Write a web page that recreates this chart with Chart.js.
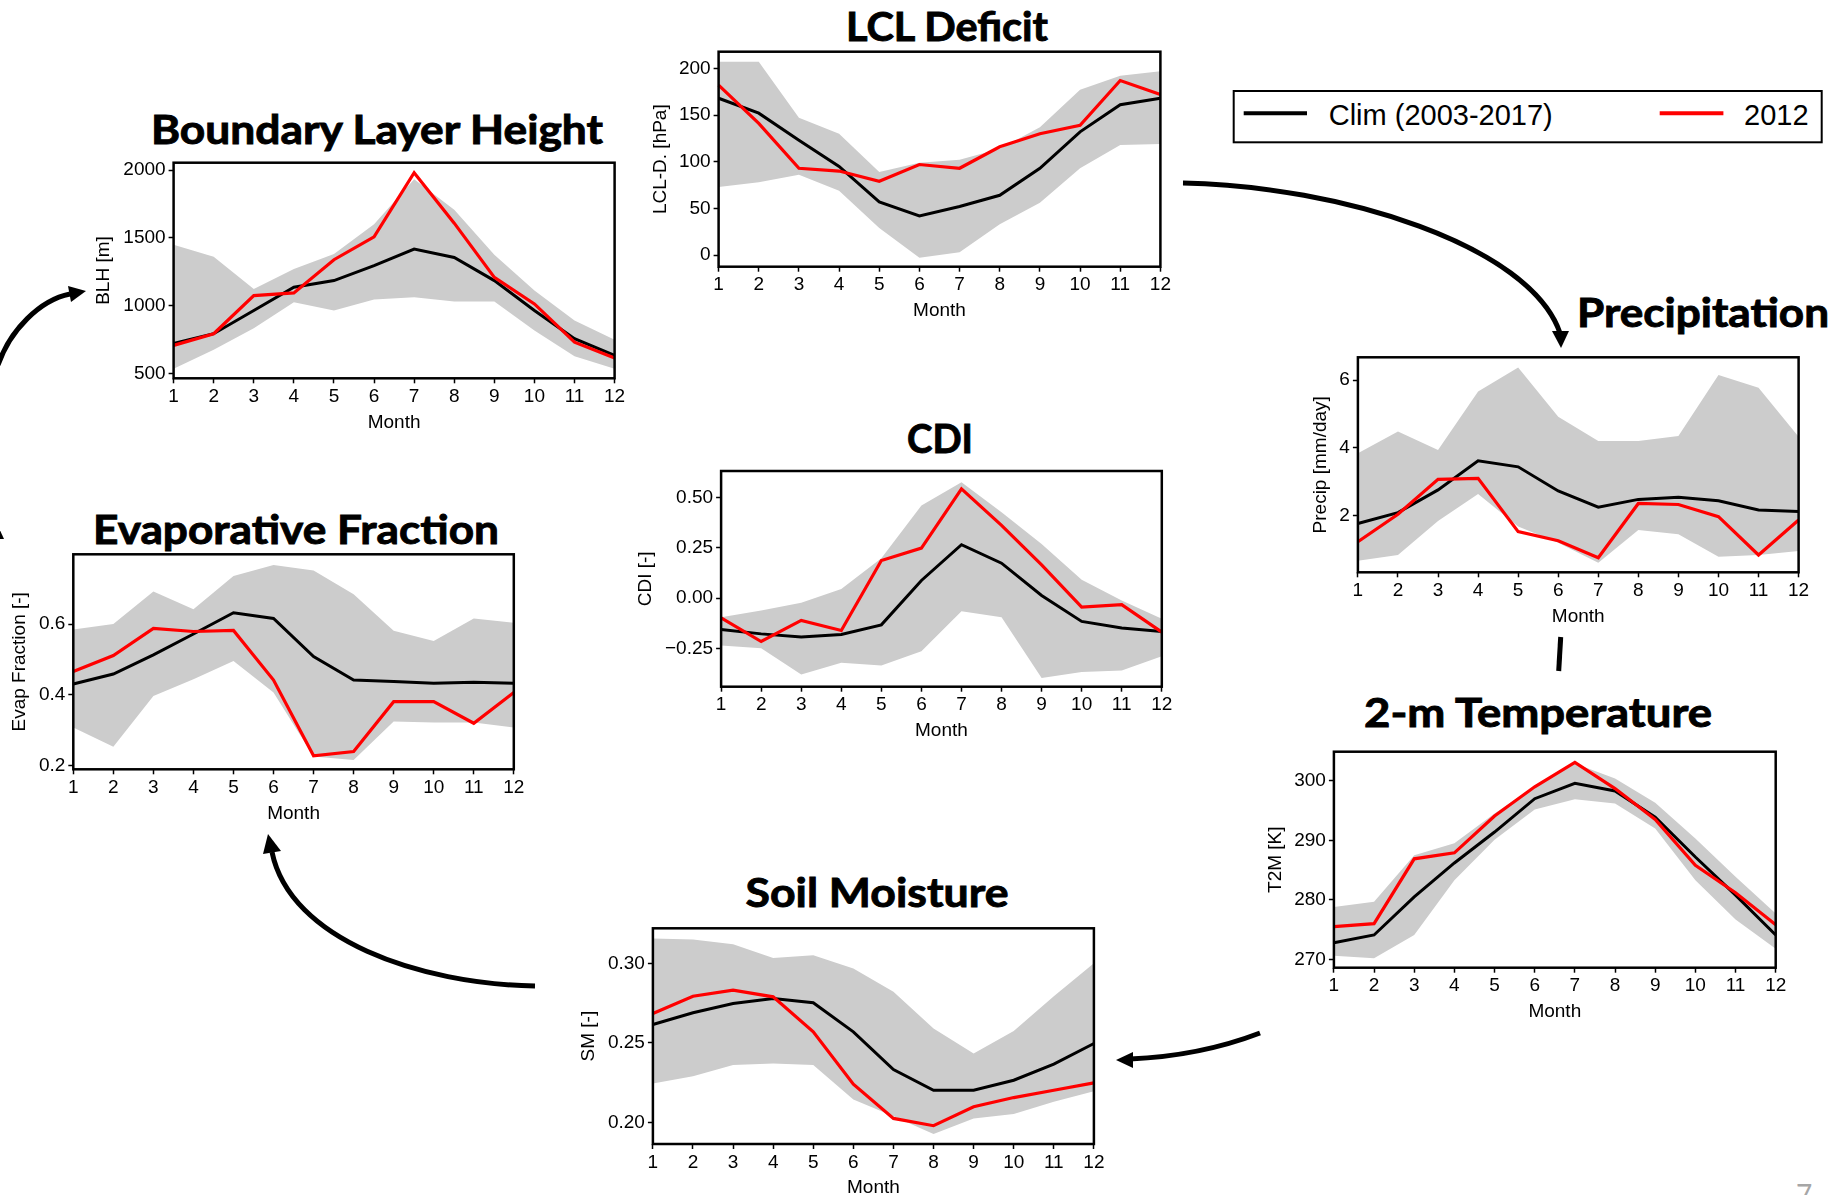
<!DOCTYPE html>
<html>
<head>
<meta charset="utf-8">
<script src="https://cdn.jsdelivr.net/npm/chart.js@4.4.1/dist/chart.umd.min.js"></script>
<style>
  html, body { margin: 0; padding: 0; background: #fff; }
  #page { position: relative; width: 1844px; height: 1195px; overflow: hidden; background: #fff; }
  #page canvas { position: absolute; }
  #deco { position: absolute; left: 0; top: 0; }
</style>
</head>
<body>
<div id="page">
<svg id="deco" width="1844" height="1195" xmlns="http://www.w3.org/2000/svg"></svg>
</div>
<script>
'use strict';

const months = ['1','2','3','4','5','6','7','8','9','10','11','12'];

// Boundary layer height [m]
const blhClim = [721, 792, 963, 1135, 1184, 1294, 1417, 1355, 1184, 963, 755, 633];
const blh2012 = [706, 792, 1073, 1093, 1338, 1507, 1980, 1608, 1208, 1012, 730, 613];
const blhHigh = [1448, 1360, 1122, 1270, 1380, 1600, 1931, 1706, 1375, 1110, 890, 748];
const blhLow  = [534, 674, 833, 1024, 963, 1044, 1061, 1029, 1029, 816, 625, 534];
const blhTicks = [500, 1000, 1500, 2000];

// LCL deficit [hPa]
const lclClim = [168, 152, 123, 95, 57, 42, 52, 64, 93, 132, 161, 168];
const lcl2012 = [182, 141, 93, 90, 79, 97, 93, 116, 130, 139, 187, 172];
const lclHigh = [207, 207, 147, 130, 89, 99, 102, 114, 137, 177, 192, 197];
const lclLow  = [73, 78, 86, 69, 29, -3, 3, 33, 56, 93, 118, 119];
const lclTicks = [0, 50, 100, 150, 200];

// Precipitation [mm/day]
const prClim = [1.77, 2.09, 2.76, 3.62, 3.44, 2.73, 2.25, 2.48, 2.54, 2.44, 2.17, 2.12];
const pr2012 = [1.23, 2.04, 3.07, 3.10, 1.53, 1.26, 0.76, 2.36, 2.33, 1.97, 0.84, 1.87];
const prHigh = [3.84, 4.48, 3.94, 5.66, 6.37, 4.92, 4.20, 4.20, 4.35, 6.15, 5.77, 4.33];
const prLow  = [0.67, 0.84, 1.84, 2.64, 1.68, 1.20, 0.61, 1.58, 1.45, 0.79, 0.84, 0.96];
const prTicks = [2, 4, 6];

// Evaporative fraction [-]
const efClim = [0.431, 0.459, 0.513, 0.572, 0.632, 0.616, 0.508, 0.442, 0.438, 0.433, 0.436, 0.433];
const ef2012 = [0.466, 0.511, 0.588, 0.579, 0.582, 0.442, 0.228, 0.240, 0.381, 0.381, 0.320, 0.407];
const efHigh = [0.585, 0.600, 0.692, 0.642, 0.736, 0.767, 0.751, 0.684, 0.581, 0.552, 0.616, 0.604];
const efLow  = [0.308, 0.254, 0.397, 0.444, 0.496, 0.407, 0.226, 0.216, 0.325, 0.322, 0.322, 0.308];
const efTicks = [0.2, 0.4, 0.6];

// CDI [-]
const cdiClim = [-0.156, -0.178, -0.194, -0.181, -0.133, 0.088, 0.266, 0.174, 0.013, -0.116, -0.149, -0.166];
const cdi2012 = [-0.098, -0.216, -0.111, -0.161, 0.187, 0.249, 0.544, 0.362, 0.166, -0.045, -0.032, -0.169];
const cdiHigh = [-0.095, -0.061, -0.023, 0.046, 0.199, 0.461, 0.577, 0.428, 0.270, 0.091, -0.012, -0.103];
const cdiLow  = [-0.236, -0.250, -0.380, -0.322, -0.335, -0.264, -0.065, -0.095, -0.398, -0.368, -0.360, -0.290];
const cdiTicks = [-0.25, 0, 0.25, 0.5];

// 2-m temperature [K]
const t2mClim = [272.8, 274.1, 280.5, 286.2, 291.4, 297.0, 299.6, 298.3, 293.9, 287.2, 280.8, 274.1];
const t2m2012 = [275.5, 276.0, 286.9, 287.9, 294.1, 299.0, 303.1, 298.7, 293.5, 285.8, 281.2, 275.8];
const t2mHigh = [278.8, 279.7, 287.5, 289.5, 294.5, 299.1, 302.9, 300.4, 296.3, 290.3, 283.9, 277.7];
const t2mLow  = [270.6, 270.2, 274.1, 283.3, 290.1, 295.2, 296.9, 296.2, 292.0, 283.3, 276.7, 271.8];
const t2mTicks = [270, 280, 290, 300];

// Soil moisture [-]
const smClim = [0.2615, 0.2689, 0.2747, 0.2779, 0.2752, 0.2569, 0.2332, 0.2202, 0.2202, 0.2265, 0.2366, 0.2496];
const sm2012 = [0.2684, 0.2793, 0.2831, 0.2789, 0.2569, 0.2240, 0.2025, 0.1979, 0.2098, 0.2156, 0.2202, 0.2248];
const smHigh = [0.3156, 0.3150, 0.3120, 0.3034, 0.3051, 0.2967, 0.2821, 0.2590, 0.2433, 0.2575, 0.2793, 0.3000];
const smLow  = [0.2244, 0.2290, 0.2360, 0.2370, 0.2360, 0.2144, 0.2039, 0.1927, 0.2025, 0.2052, 0.2129, 0.2196];
const smTicks = [0.20, 0.25, 0.30];

const LABEL_FONT = "'Liberation Sans', Arial, sans-serif";
const TITLE_FONT = "Lato, 'Open Sans', sans-serif";
const FS = 19;

// plot box: [left, right, top, bottom] in page pixels; yOff = gap from axis to y-title centre
// tw = width of the slide title above the panel
const panels = [
    { title: 'Boundary Layer Height', ylabel: 'BLH [m]', clim: blhClim, cur: blh2012, hi: blhHigh, lo: blhLow,
      ticks: blhTicks, dec: 0, ymin: 463, ymax: 2054, box: [173.6, 614.6, 162.7, 378.3], yOff: 70.4, tx: 377, ty: 144, tw: 452 },
    { title: 'LCL Deficit', ylabel: 'LCL-D. [hPa]', clim: lclClim, cur: lcl2012, hi: lclHigh, lo: lclLow,
      ticks: lclTicks, dec: 0, ymin: -12.5, ymax: 217.9, box: [718.6, 1160.4, 51.7, 266.7], yOff: 58.2, tx: 947, ty: 40.5, tw: 202 },
    { title: 'Precipitation', ylabel: 'Precip [mm/day]', clim: prClim, cur: pr2012, hi: prHigh, lo: prLow,
      ticks: prTicks, dec: 0, ymin: 0.33, ymax: 6.67, box: [1357.9, 1798.6, 357.3, 572.3], yOff: 37.1, tx: 1703, ty: 326.7, tw: 252 },
    { title: 'Evaporative Fraction', ylabel: 'Evap Fraction [-]', clim: efClim, cur: ef2012, hi: efHigh, lo: efLow,
      ticks: efTicks, dec: 1, ymin: 0.19, ymax: 0.797, box: [73.3, 513.8, 554.3, 769.3], yOff: 53.7, tx: 296, ty: 544, tw: 406 },
    { title: 'CDI', ylabel: 'CDI [-]', clim: cdiClim, cur: cdi2012, hi: cdiHigh, lo: cdiLow,
      ticks: cdiTicks, dec: 2, ymin: -0.441, ymax: 0.633, box: [721.1, 1161.8, 471, 686.7], yOff: 76.1, tx: 940, ty: 453.3, tw: 66 },
    { title: '2-m Temperature', ylabel: 'T2M [K]', clim: t2mClim, cur: t2m2012, hi: t2mHigh, lo: t2mLow,
      ticks: t2mTicks, dec: 0, ymin: 268.6, ymax: 304.9, box: [1333.9, 1775.7, 751.7, 967.7], yOff: 58.9, tx: 1538, ty: 726.7, tw: 348 },
    { title: 'Soil Moisture', ylabel: 'SM [-]', clim: smClim, cur: sm2012, hi: smHigh, lo: smLow,
      ticks: smTicks, dec: 2, ymin: 0.1864, ymax: 0.322, box: [652.9, 1093.9, 928.3, 1144], yOff: 64.3, tx: 877, ty: 906.7, tw: 263 }
];

const frame = {
    id: 'frame',
    afterDatasetsDraw(chart) {
        const { ctx, chartArea: a } = chart;
        ctx.save();
        ctx.strokeStyle = '#000';
        ctx.lineWidth = 2.5;
        ctx.strokeRect(a.left, a.top, a.right - a.left, a.bottom - a.top);
        ctx.restore();
    }
};

const page = document.getElementById('page');

function makePanel(p) {
    const [L, R, T, B] = p.box;
    const yw0 = p.yOff + FS * 1.2 / 2;
    const left = Math.round(L - yw0);
    const yw = L - left;
    const top = Math.round(T - 15);
    const padTop = T - top;
    const W = Math.ceil(yw + (R - L) + 18);
    const padRight = W - yw - (R - L);
    const xh0 = 43.4 + FS * 1.2 / 2;
    const H = Math.ceil(padTop + (B - T) + xh0);
    const xh = H - padTop - (B - T);

    const canvas = document.createElement('canvas');
    canvas.width = W;
    canvas.height = H;
    canvas.style.left = left + 'px';
    canvas.style.top = top + 'px';
    page.appendChild(canvas);

    new Chart(canvas.getContext('2d'), {
        type: 'line',
        data: {
            labels: months,
            datasets: [
                { label: '2012', data: p.cur, borderColor: '#ff0000', borderWidth: 3.2, pointRadius: 0, tension: 0, fill: false },
                { label: 'Clim (2003-2017)', data: p.clim, borderColor: '#000000', borderWidth: 3, pointRadius: 0, tension: 0, fill: false },
                { label: 'high', data: p.hi, borderWidth: 0, borderColor: 'rgba(0,0,0,0)', backgroundColor: '#cccccc', pointRadius: 0, tension: 0, fill: '+1' },
                { label: 'low', data: p.lo, borderWidth: 0, borderColor: 'rgba(0,0,0,0)', pointRadius: 0, tension: 0, fill: false }
            ]
        },
        options: {
            responsive: false,
            animation: false,
            devicePixelRatio: 1,
            layout: { padding: { top: padTop, right: padRight, left: 0, bottom: 0 } },
            plugins: {
                legend: { display: false },
                tooltip: { enabled: false }
            },
            scales: {
                x: {
                    type: 'category',
                    offset: false,
                    border: { display: false },
                    grid: { display: true, drawOnChartArea: false, drawTicks: true, tickLength: 5, tickColor: '#000', tickWidth: 1.5 },
                    ticks: { color: '#000', font: { size: FS, family: LABEL_FONT }, padding: 2, autoSkip: false, maxRotation: 0 },
                    title: { display: true, text: 'Month', color: '#000', font: { size: FS, family: LABEL_FONT }, padding: 0 },
                    afterFit: s => { s.height = xh; }
                },
                y: {
                    type: 'linear',
                    min: p.ymin,
                    max: p.ymax,
                    border: { display: false },
                    grid: { display: true, drawOnChartArea: false, drawTicks: true, tickLength: 5, tickColor: '#000', tickWidth: 1.5 },
                    ticks: {
                        color: '#000', font: { size: FS, family: LABEL_FONT }, padding: 3,
                        callback: v => v.toFixed(p.dec).replace('-', '\u2212')
                    },
                    afterBuildTicks: s => { s.ticks = p.ticks.map(v => ({ value: v })); },
                    title: { display: true, text: p.ylabel, color: '#000', font: { size: FS, family: LABEL_FONT }, padding: 0 },
                    afterFit: s => { s.width = yw; }
                }
            }
        },
        plugins: [frame]
    });
}

panels.forEach(makePanel);

// titles, legend and arrows on an svg layer
const svg = document.getElementById('deco');
const NS = 'http://www.w3.org/2000/svg';
function el(tag, attrs, text) {
    const e = document.createElementNS(NS, tag);
    for (const k in attrs) e.setAttribute(k, attrs[k]);
    if (text !== undefined) e.textContent = text;
    svg.appendChild(e);
    return e;
}

panels.forEach(p => {
    el('text', {
        x: p.tx - p.tw / 2, y: p.ty, textLength: p.tw, lengthAdjust: 'spacingAndGlyphs',
        'font-family': TITLE_FONT, 'font-weight': 'bold', 'font-size': 40,
        fill: '#000', stroke: '#000', 'stroke-width': 0.9
    }, p.title);
});

// legend
el('rect', { x: 1233.7, y: 91, width: 588, height: 51.3, fill: '#fff', stroke: '#000', 'stroke-width': 2 });
el('line', { x1: 1243.7, y1: 113.3, x2: 1307, y2: 113.3, stroke: '#000', 'stroke-width': 4 });
el('text', { x: 1328.7, y: 125, 'font-family': LABEL_FONT, 'font-size': 29, fill: '#000' }, 'Clim (2003-2017)');
el('line', { x1: 1659.7, y1: 113.3, x2: 1723.4, y2: 113.3, stroke: '#ff0000', 'stroke-width': 4 });
el('text', { x: 1744, y: 125, 'font-family': LABEL_FONT, 'font-size': 29, fill: '#000' }, '2012');

// arrows
const arrowStroke = { fill: 'none', stroke: '#000', 'stroke-width': 5 };
el('path', Object.assign({ d: 'M1183,183 C1340,186 1530,245 1560,333' }, arrowStroke));
el('polygon', { points: '1561,348 1552,331 1569,331', fill: '#000' });
el('line', { x1: 1560.7, y1: 637, x2: 1558.7, y2: 671, stroke: '#000', 'stroke-width': 5 });
el('path', Object.assign({ d: 'M1260,1033 Q1200,1056 1130,1059' }, arrowStroke));
el('polygon', { points: '1116,1060 1133,1052 1133,1068', fill: '#000' });
el('path', Object.assign({ d: 'M535,986 C420,984 290,940 272,852' }, arrowStroke));
el('polygon', { points: '268,834 281,851 263,854', fill: '#000' });
el('path', Object.assign({ d: 'M-2,365 C10,330 40,300 70,294' }, arrowStroke));
el('polygon', { points: '86,291 71,302 68,286', fill: '#000' });
el('polygon', { points: '-2,526 4,539 -8,539', fill: '#000' });

// slide number
el('text', { x: 1796, y: 1205, 'font-family': TITLE_FONT, 'font-size': 28, fill: '#a6a6a6' }, '7');
</script>
</body>
</html>
